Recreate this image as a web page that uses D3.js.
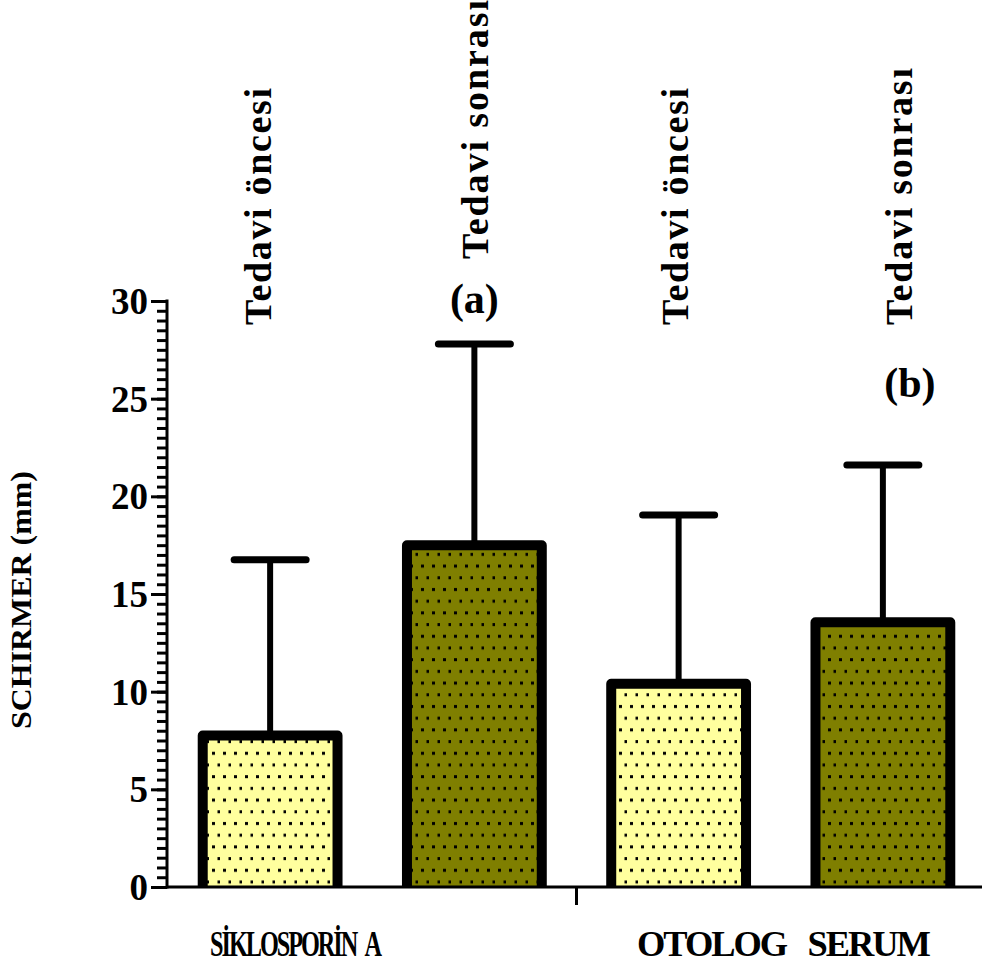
<!DOCTYPE html>
<html><head><meta charset="utf-8">
<script src="https://cdn.jsdelivr.net/npm/d3@7"></script>
<style>body{margin:0;background:#fff}svg{display:block}</style>
</head><body>
<svg id="c" width="982" height="963"></svg>
<script>
const categories = ["Tedavi öncesi", "Tedavi sonrası", "Tedavi öncesi", "Tedavi sonrası"];
const groups = ["SİKLOSPORİN A", "OTOLOG   SERUM"];
const means = [7.75, 17.5, 10.4, 13.55];
const sdUpper = [16.75, 27.8, 19.05, 21.6];
const yTicks = [0, 5, 10, 15, 20, 25, 30];
const annotations = [{bar: 1, text: "(a)"}, {bar: 3, text: "(b)"}];

const svg = d3.select("#c");
const font = "'Liberation Serif','Times New Roman',serif";
const y = d3.scaleLinear().domain([0, 30]).range([887, 301]);
const x = d3.scaleBand().domain(d3.range(categories.length)).range([168, 985])
  .paddingInner(0.34).paddingOuter(0.17);
const fills = ["#ffff9e", "#7f7f00"];

const defs = svg.append("defs");
fills.forEach((f, i) => {
  const p = defs.append("pattern").attr("id", "dots" + i).attr("patternUnits", "userSpaceOnUse")
    .attr("width", 11).attr("height", 23.4);
  p.append("rect").attr("width", 11).attr("height", 23.4).attr("fill", f);
  p.append("rect").attr("x", 3).attr("y", 3).attr("width", 3).attr("height", 3).attr("fill", "#000");
  p.append("rect").attr("x", 8.5).attr("y", 14.7).attr("width", 3).attr("height", 3).attr("fill", "#000");
});

// error bars
const bw = x.bandwidth();
const eb = svg.append("g");
means.forEach((m, i) => {
  const cx = x(i) + bw / 2;
  eb.append("line").attr("x1", cx).attr("x2", cx).attr("y1", y(m)).attr("y2", y(sdUpper[i]))
    .attr("stroke", "#000").attr("stroke-width", 6);
  eb.append("line").attr("x1", cx - 36).attr("x2", cx + 36).attr("y1", y(sdUpper[i])).attr("y2", y(sdUpper[i]))
    .attr("stroke", "#000").attr("stroke-width", 7).attr("stroke-linecap", "round");
});

// bars
const bars = svg.append("g");
means.forEach((m, i) => {
  const x0 = x(i), x1 = x(i) + bw;
  bars.append("rect").attr("x", x0).attr("y", y(m)).attr("width", bw).attr("height", y(0) - y(m))
    .attr("fill", `url(#dots${i % 2})`);
  bars.append("path").attr("d", `M${x0},${y(0)}V${y(m)}H${x1}V${y(0)}`)
    .attr("fill", "none").attr("stroke", "#000").attr("stroke-width", 10).attr("stroke-linejoin", "round");
});

// y axis
const minor = d3.range(0, 30.01, 0.5);
const gMinor = svg.append("g").attr("transform", "translate(167,0)")
  .call(d3.axisLeft(y).tickValues(minor).tickSize(10).tickFormat(""));
const gMajor = svg.append("g").attr("transform", "translate(167,0)")
  .call(d3.axisLeft(y).tickValues(yTicks).tickSize(16).tickPadding(3).tickFormat(d3.format("d")));
[gMinor, gMajor].forEach(g => {
  g.select(".domain").remove();
  g.selectAll(".tick line").attr("stroke", "#000").attr("stroke-width", 3);
});
gMajor.selectAll(".tick text").attr("font-family", font).attr("font-weight", "bold")
  .attr("font-size", 37).attr("fill", "#000").attr("dy", "0.34em");
svg.append("line").attr("x1", 167).attr("x2", 167).attr("y1", y(30) - 1.5).attr("y2", y(0) + 1.5)
  .attr("stroke", "#000").attr("stroke-width", 3);

// x axis
svg.append("line").attr("x1", 167).attr("x2", 985).attr("y1", y(0)).attr("y2", y(0))
  .attr("stroke", "#000").attr("stroke-width", 3);
const sepX = (x(1) + bw + x(2)) / 2;
svg.append("line").attr("x1", sepX).attr("x2", sepX).attr("y1", y(0)).attr("y2", y(0) + 18)
  .attr("stroke", "#000").attr("stroke-width", 3);

// group labels (horizontally condensed)
const groupX = [[210, 172, -3, 8], [637, 293, -2, 0]];
groups.forEach((g, i) => {
  const gg = svg.append("g");
  const t = gg.append("text").attr("x", 0).attr("y", 0).text(g)
    .attr("font-family", font).attr("font-weight", "bold").attr("font-size", 36)
    .attr("letter-spacing", groupX[i][2]).attr("word-spacing", groupX[i][3])
    .style("white-space", "pre");
  const bb = t.node().getBBox();
  gg.attr("transform", `translate(${groupX[i][0]},956) scale(${groupX[i][1] / bb.width},1)`);
});

// y title
svg.append("text").attr("transform", "translate(31,600) rotate(-90)").attr("text-anchor", "middle")
  .text("SCHIRMER (mm)").attr("font-family", font).attr("font-weight", "bold").attr("font-size", 29)
  .attr("textLength", 258).attr("lengthAdjust", "spacingAndGlyphs");

// category labels (rotated)
const catPos = [[271, 325, 237], [488, 259, 259], [688, 325, 237], [912, 325, 257]];
categories.forEach((c, i) => {
  svg.append("text").attr("transform", `translate(${catPos[i][0]},${catPos[i][1]}) rotate(-90)`)
    .text(c).attr("font-family", font).attr("font-weight", "bold").attr("font-size", 38)
    .attr("textLength", catPos[i][2]).attr("lengthAdjust", "spacing");
});

// annotations
const annPos = [313, 397];
annotations.forEach((a, i) => {
  const cx = x(a.bar) + bw / 2 + (a.bar === 3 ? 27 : 0);
  svg.append("text").attr("x", cx).attr("y", annPos[i]).attr("text-anchor", "middle").text(a.text)
    .attr("font-family", font).attr("font-weight", "bold").attr("font-size", 42);
});
</script>
</body></html>
